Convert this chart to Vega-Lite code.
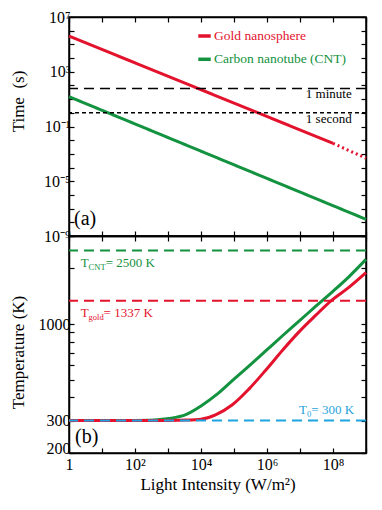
{
  "$schema": "https://vega.github.io/schema/vega-lite/v6.json",
  "padding": {"left": 8, "top": 8, "right": 5, "bottom": 5},
  "background": "white",
  "config": {
    "font": "Liberation Serif",
    "view": {"stroke": "black", "strokeWidth": 1.5},
    "axis": {
      "domainColor": "black", "domainWidth": 1.5,
      "tickColor": "black", "tickWidth": 1.2, "tickSize": -5,
      "labelFont": "Liberation Serif", "labelFontSize": 16, "labelColor": "black",
      "labelPadding": 4, "labelOverlap": false, "labelFlush": false,
      "titleFont": "Liberation Serif", "titleFontSize": 17, "titleFontWeight": "normal", "titleColor": "black",
      "grid": false
    }
  },
  "bounds": "flush",
  "spacing": 0,
  "resolve": {"scale": {"color": "independent"}},
  "vconcat": [
    {
      "width": 297, "height": 219,
      "resolve": {"axis": {"x": "independent", "y": "independent"}},
      "layer": [
        {
          "data": {"values": [
            {"I": 1, "t": 407000, "series": "gold", "seg": "solid"},
            {"I": 100000000, "t": 0.0059, "series": "gold", "seg": "solid"},
            {"I": 100000000, "t": 0.0059, "series": "gold", "seg": "dotted"},
            {"I": 1000000000, "t": 0.00048, "series": "gold", "seg": "dotted"},
            {"I": 1, "t": 15.1, "series": "cnt", "seg": "solid"},
            {"I": 1000000000, "t": 1.66e-8, "series": "cnt", "seg": "solid"}
          ]},
          "mark": {"type": "line", "strokeWidth": 3},
          "encoding": {
            "x": {"field": "I", "type": "quantitative", "scale": {"type": "log", "domain": [1, 1000000000], "nice": false},
                  "axis": {"orient": "bottom", "values": [1,10,100,1000,10000,100000,1000000,10000000,100000000,1000000000], "labels": false, "title": null}},
            "y": {"field": "t", "type": "quantitative", "scale": {"type": "log", "domain": [1e-9, 10000000], "nice": false},
                  "axis": {"orient": "left", "values": [1e-9,1e-8,1e-7,1e-6,1e-5,1e-4,1e-3,1e-2,1e-1,1,10,100,1000,10000,100000,1000000,10000000],
                           "labelExpr": "round(log(datum.value)/LN10) == 7 ? '10⁷' : round(log(datum.value)/LN10) == 3 ? '10³' : round(log(datum.value)/LN10) == -1 ? '10⁻¹' : round(log(datum.value)/LN10) == -5 ? '10⁻⁵' : round(log(datum.value)/LN10) == -9 ? '10⁻⁹' : ''",
                           "title": "Time \u00a0(s)", "titleX": -42, "titleY": 84}},
            "color": {"field": "series", "type": "nominal", "scale": {"domain": ["gold", "cnt", "room"], "range": ["#e3122d", "#139240", "#1fa3e0"]}, "legend": null},
            "strokeDash": {"field": "seg", "type": "nominal", "scale": {"domain": ["solid", "dotted"], "range": [[1, 0], [2, 3]]}, "legend": null}
          }
        },
        {
          "data": {"values": [{"t": 60}]},
          "mark": {"type": "rule", "color": "black", "strokeWidth": 1.5, "strokeDash": [10, 6]},
          "encoding": {"y": {"field": "t", "type": "quantitative", "scale": {"type": "log", "domain": [1e-9, 10000000], "nice": false}, "axis": null}}
        },
        {
          "data": {"values": [{"t": 1}]},
          "mark": {"type": "rule", "color": "black", "strokeWidth": 1.5, "strokeDash": [4, 3]},
          "encoding": {"y": {"field": "t", "type": "quantitative", "scale": {"type": "log", "domain": [1e-9, 10000000], "nice": false}, "axis": null}}
        },
        {
          "data": {"values": [
            {"I": 369000000, "t": 11.5, "text": "1 minute"},
            {"I": 369000000, "t": 0.19, "text": "1 second"}
          ]},
          "mark": {"type": "text", "align": "right", "baseline": "alphabetic", "fontSize": 13, "color": "black"},
          "encoding": {
            "x": {"field": "I", "type": "quantitative", "scale": {"type": "log", "domain": [1, 1000000000], "nice": false}, "axis": null},
            "y": {"field": "t", "type": "quantitative", "scale": {"type": "log", "domain": [1e-9, 10000000], "nice": false}, "axis": null},
            "text": {"field": "text"}
          }
        },
        {
          "data": {"values": [
            {"I": 8280, "I2": 19700, "t": 409000, "series": "gold"},
            {"I": 8280, "I2": 19700, "t": 8130, "series": "cnt"}
          ]},
          "mark": {"type": "rule", "strokeWidth": 3.5},
          "encoding": {
            "x": {"field": "I", "type": "quantitative", "scale": {"type": "log", "domain": [1, 1000000000], "nice": false},
                  "axis": {"orient": "top", "values": [1,10,100,1000,10000,100000,1000000,10000000,100000000,1000000000], "labels": false, "title": null}},
            "x2": {"field": "I2"},
            "y": {"field": "t", "type": "quantitative", "scale": {"type": "log", "domain": [1e-9, 10000000], "nice": false},
                  "axis": {"orient": "right", "values": [1e-9,1e-8,1e-7,1e-6,1e-5,1e-4,1e-3,1e-2,1e-1,1,10,100,1000,10000,100000,1000000,10000000], "labels": false, "title": null}},
            "color": {"field": "series", "type": "nominal", "scale": {"domain": ["gold", "cnt", "room"], "range": ["#e3122d", "#139240", "#1fa3e0"]}, "legend": null}
          }
        },
        {
          "data": {"values": [
            {"I": 24800, "t": 409000, "series": "gold", "text": "Gold nanosphere"},
            {"I": 24800, "t": 8130, "series": "cnt", "text": "Carbon nanotube (CNT)"}
          ]},
          "mark": {"type": "text", "align": "left", "baseline": "middle", "fontSize": 13.5},
          "encoding": {
            "x": {"field": "I", "type": "quantitative", "scale": {"type": "log", "domain": [1, 1000000000], "nice": false}, "axis": null},
            "y": {"field": "t", "type": "quantitative", "scale": {"type": "log", "domain": [1e-9, 10000000], "nice": false}, "axis": null},
            "color": {"field": "series", "type": "nominal", "scale": {"domain": ["gold", "cnt", "room"], "range": ["#e3122d", "#139240", "#1fa3e0"]}, "legend": null},
            "text": {"field": "text"}
          }
        },
        {
          "data": {"values": [{"I": 1.42, "t": 6.5e-9, "text": "(a)"}]},
          "mark": {"type": "text", "align": "left", "baseline": "alphabetic", "fontSize": 20, "color": "black"},
          "encoding": {
            "x": {"field": "I", "type": "quantitative", "scale": {"type": "log", "domain": [1, 1000000000], "nice": false}, "axis": null},
            "y": {"field": "t", "type": "quantitative", "scale": {"type": "log", "domain": [1e-9, 10000000], "nice": false}, "axis": null},
            "text": {"field": "text"}
          }
        }
      ]
    },
    {
      "width": 297, "height": 217,
      "resolve": {"axis": {"x": "independent", "y": "independent"}},
      "layer": [
        {
          "data": {"values": [
            {"I": 1, "T": 300, "series": "cnt"},
            {"I": 10, "T": 300, "series": "cnt"},
            {"I": 100, "T": 300.3, "series": "cnt"},
            {"I": 263, "T": 301, "series": "cnt"},
            {"I": 1072, "T": 307.5, "series": "cnt"},
            {"I": 3467, "T": 323, "series": "cnt"},
            {"I": 10000, "T": 360, "series": "cnt"},
            {"I": 31623, "T": 418, "series": "cnt"},
            {"I": 100000, "T": 503, "series": "cnt"},
            {"I": 281838, "T": 592, "series": "cnt"},
            {"I": 912011, "T": 715, "series": "cnt"},
            {"I": 2951209, "T": 864, "series": "cnt"},
            {"I": 9332543, "T": 1036, "series": "cnt"},
            {"I": 30199517, "T": 1250, "series": "cnt"},
            {"I": 95499259, "T": 1495, "series": "cnt"},
            {"I": 301995172, "T": 1803, "series": "cnt"},
            {"I": 1000000000, "T": 2240, "series": "cnt"},
            {"I": 1, "T": 300, "series": "gold"},
            {"I": 100, "T": 300, "series": "gold"},
            {"I": 1000, "T": 300.4, "series": "gold"},
            {"I": 3467, "T": 301.5, "series": "gold"},
            {"I": 10000, "T": 305, "series": "gold"},
            {"I": 27540, "T": 322, "series": "gold"},
            {"I": 89125, "T": 365, "series": "gold"},
            {"I": 281838, "T": 444, "series": "gold"},
            {"I": 912011, "T": 562, "series": "gold"},
            {"I": 2951209, "T": 721, "series": "gold"},
            {"I": 9332543, "T": 907, "series": "gold"},
            {"I": 30199517, "T": 1117, "series": "gold"},
            {"I": 85113804, "T": 1332, "series": "gold"},
            {"I": 301995172, "T": 1580, "series": "gold"},
            {"I": 1000000000, "T": 1900, "series": "gold"}
          ]},
          "mark": {"type": "line", "strokeWidth": 3, "interpolate": "monotone"},
          "encoding": {
            "x": {"field": "I", "type": "quantitative", "scale": {"type": "log", "domain": [1, 1000000000], "nice": false},
                  "axis": {"orient": "bottom", "values": [1,10,100,1000,10000,100000,1000000,10000000,100000000,1000000000],
                           "labelExpr": "round(log(datum.value)/LN10) == 0 ? '1' : round(log(datum.value)/LN10) == 2 ? '10²' : round(log(datum.value)/LN10) == 4 ? '10⁴' : round(log(datum.value)/LN10) == 6 ? '10⁶' : round(log(datum.value)/LN10) == 8 ? '10⁸' : ''",
                           "labelPadding": 8,
                           "title": "Light Intensity (W/m²)", "titlePadding": 4}},
            "y": {"field": "T", "type": "quantitative", "scale": {"type": "log", "domain": [200, 3000], "nice": false},
                  "axis": {"orient": "left", "values": [200,300,400,500,600,700,800,900,1000,2000,3000],
                           "labelExpr": "datum.value == 200 || datum.value == 300 || datum.value == 1000 ? '' + datum.value : ''",
                           "labelOffset": {"condition": {"test": "datum.value == 200", "value": -5}, "value": 0},
                           "title": "Temperature (K)", "titleX": -42, "titleY": 116}},
            "color": {"field": "series", "type": "nominal", "scale": {"domain": ["gold", "cnt", "room"], "range": ["#e3122d", "#139240", "#1fa3e0"]}, "legend": null}
          }
        },
        {
          "data": {"values": [
            {"T": 2500, "series": "cnt"},
            {"T": 1337, "series": "gold"},
            {"T": 300, "series": "room"}
          ]},
          "mark": {"type": "rule", "strokeWidth": 2, "strokeDash": [10, 6]},
          "encoding": {
            "y": {"field": "T", "type": "quantitative", "scale": {"type": "log", "domain": [200, 3000], "nice": false}, "axis": null},
            "color": {"field": "series", "type": "nominal", "scale": {"domain": ["gold", "cnt", "room"], "range": ["#e3122d", "#139240", "#1fa3e0"]}, "legend": null}
          }
        },
        {
          "data": {"values": [
            {"I": 2.26, "T": 2044, "text": "T", "series": "cnt"},
            {"I": 12.9, "T": 2044, "text": "= 2500 K", "series": "cnt"},
            {"I": 2.26, "T": 1086, "text": "T", "series": "gold"},
            {"I": 11.2, "T": 1086, "text": "= 1337 K", "series": "gold"},
            {"I": 9300000, "T": 324.5, "text": "T", "series": "room"},
            {"I": 22000000, "T": 324.5, "text": "= 300 K", "series": "room"}
          ]},
          "mark": {"type": "text", "align": "left", "baseline": "alphabetic", "fontSize": 13},
          "encoding": {
            "x": {"field": "I", "type": "quantitative", "scale": {"type": "log", "domain": [1, 1000000000], "nice": false},
                  "axis": {"orient": "top", "values": [1,10,100,1000,10000,100000,1000000,10000000,100000000,1000000000], "labels": false, "title": null}},
            "y": {"field": "T", "type": "quantitative", "scale": {"type": "log", "domain": [200, 3000], "nice": false},
                  "axis": {"orient": "right", "values": [200,300,400,500,600,700,800,900,1000,2000,3000], "labels": false, "title": null}},
            "color": {"field": "series", "type": "nominal", "scale": {"domain": ["gold", "cnt", "room"], "range": ["#e3122d", "#139240", "#1fa3e0"]}, "legend": null},
            "text": {"field": "text"}
          }
        },
        {
          "data": {"values": [
            {"I": 3.93, "T": 1968, "text": "CNT", "series": "cnt"},
            {"I": 3.93, "T": 1046, "text": "gold", "series": "gold"},
            {"I": 16300000, "T": 312.6, "text": "0", "series": "room"}
          ]},
          "mark": {"type": "text", "align": "left", "baseline": "alphabetic", "fontSize": 8.5},
          "encoding": {
            "x": {"field": "I", "type": "quantitative", "scale": {"type": "log", "domain": [1, 1000000000], "nice": false}, "axis": null},
            "y": {"field": "T", "type": "quantitative", "scale": {"type": "log", "domain": [200, 3000], "nice": false}, "axis": null},
            "color": {"field": "series", "type": "nominal", "scale": {"domain": ["gold", "cnt", "room"], "range": ["#e3122d", "#139240", "#1fa3e0"]}, "legend": null},
            "text": {"field": "text"}
          }
        },
        {
          "data": {"values": [{"I": 1.52, "T": 226, "text": "(b)"}]},
          "mark": {"type": "text", "align": "left", "baseline": "alphabetic", "fontSize": 20, "color": "black"},
          "encoding": {
            "x": {"field": "I", "type": "quantitative", "scale": {"type": "log", "domain": [1, 1000000000], "nice": false}, "axis": null},
            "y": {"field": "T", "type": "quantitative", "scale": {"type": "log", "domain": [200, 3000], "nice": false}, "axis": null},
            "text": {"field": "text"}
          }
        }
      ]
    }
  ]
}
